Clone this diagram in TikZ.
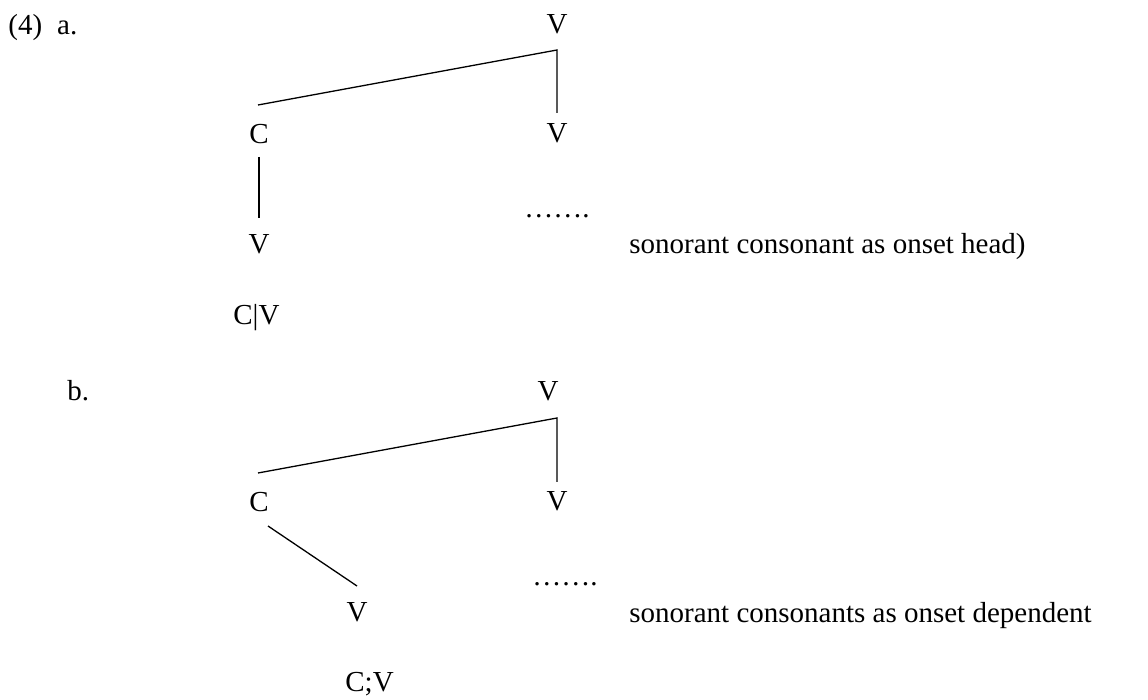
\documentclass[tikz,border=0pt]{standalone}
\usepackage{fontspec}
\setmainfont{Liberation Serif}
\begin{document}
\begin{tikzpicture}[x=0.5pt,y=-0.5pt,
  lbl/.style={inner sep=0pt,anchor=base,font=\fontsize{14.5pt}{17pt}\selectfont},
  lblw/.style={lbl,anchor=base west},
  branch/.style={line width=0.65pt,line cap=butt}]
\useasboundingbox (0,0) rectangle (1148,700);
% ---- (4) a.
\node[lblw] (numa) at (8,35) {(4)\hspace{7.5pt}a.};
\node[lbl] (aVtop) at (557,34) {V};
\node[lbl] (aC) at (259,144) {C};
\node[lbl] (aVr) at (557,143) {V};
\node[lbl] (aVb) at (259,254) {V};
\node[lbl] (adots) at (557,218) {…….};
\node[lblw] (atext) at (629,254) {sonorant consonant as onset head)};
\node[lblw] (aCV) at (233,325) {C|V};
\coordinate (aCorner) at (557,50);
\coordinate (aLeft) at (258,105);
\coordinate (aRbot) at (557,113);
\coordinate (aCtop) at (259,157);
\coordinate (aCbot) at (259,218);
\draw[branch] (aLeft) -- (aCorner) -- (aRbot);
\draw[branch] (aCtop) -- (aCbot);
% ---- b.
\node[lblw] (numb) at (67,401) {b.};
\node[lbl] (bVtop) at (548,401) {V};
\node[lbl] (bC) at (259,512) {C};
\node[lbl] (bVr) at (557,511) {V};
\node[lbl] (bVb) at (357,622) {V};
\node[lbl] (bdots) at (565,586) {…….};
\node[lblw] (btext) at (629,623) {sonorant consonants as onset dependent};
\node[lblw] (bCV) at (345,691) {C;V};
\coordinate (bCorner) at (557,418);
\coordinate (bLeft) at (258,473);
\coordinate (bRbot) at (557,482);
\coordinate (bCtop) at (268,526);
\coordinate (bCbot) at (357,586);
\draw[branch] (bLeft) -- (bCorner) -- (bRbot);
\draw[branch] (bCtop) -- (bCbot);
\end{tikzpicture}
\end{document}
